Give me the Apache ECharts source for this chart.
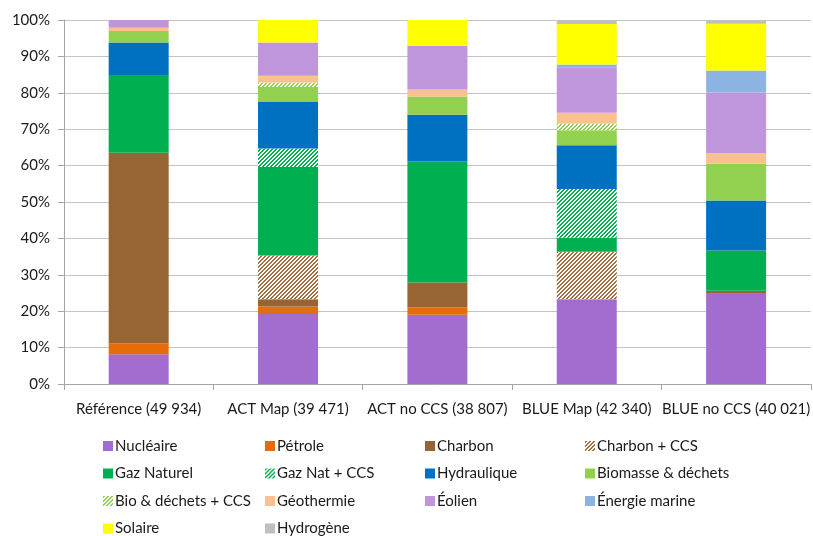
<!DOCTYPE html>
<html>
<head>
<meta charset="utf-8">
<script src="https://cdn.jsdelivr.net/npm/echarts@6/dist/echarts.min.js"></script>
<style>html,body{margin:0;padding:0;background:#fff}#c{width:813px;height:536px}</style>
</head>
<body>
<div id="c"></div>
<script>
const categories = ['Référence (49 934)', 'ACT Map (39 471)', 'ACT no CCS (38 807)', 'BLUE Map (42 340)', 'BLUE no CCS (40 021)'];
const yTicks = [0, 10, 20, 30, 40, 50, 60, 70, 80, 90, 100];

const nucleaire   = [8.2, 19.2, 19.0, 23.3, 24.8];
const petrole     = [3.0, 2.1, 2.1, 0, 0];
const charbon     = [52.3, 2.0, 6.8, 0, 0.8];
const charbonCCS  = [0, 12.0, 0, 13.0, 0];
const gazNaturel  = [21.4, 24.3, 33.2, 3.9, 11.1];
const gazNatCCS   = [0, 5.1, 0, 13.4, 0];
const hydraulique = [8.9, 12.9, 12.9, 12.0, 13.7];
const biomasse    = [3.2, 4.0, 5.0, 4.1, 10.1];
const bioCCS      = [0, 1.2, 0, 1.9, 0];
const geothermie  = [0.9, 1.9, 1.9, 2.9, 2.9];
const eolien      = [2.1, 9.1, 12.0, 12.4, 16.7];
const marine      = [0, 0, 0, 0.9, 6.0];
const solaire     = [0, 6.2, 7.1, 11.1, 12.9];
const hydrogene   = [0, 0, 0, 1.1, 1.0];

function stripes(color) {
  const c = document.createElement('canvas');
  c.width = 4; c.height = 4;
  const g = c.getContext('2d');
  g.fillStyle = '#ffffff'; g.fillRect(0, 0, 4, 4);
  g.fillStyle = color;
  for (let y = 0; y < 4; y++) for (let x = 0; x < 4; x++) {
    if (((x + y) % 4) < 2) g.fillRect(x, y, 1, 1);
  }
  return { image: c, repeat: 'repeat' };
}

const defs = [
  ['Nucléaire', nucleaire, '#a36dd0'],
  ['Pétrole', petrole, '#e46c0a'],
  ['Charbon', charbon, '#976434'],
  ['Charbon + CCS', charbonCCS, stripes('#a0703f')],
  ['Gaz Naturel', gazNaturel, '#00b050'],
  ['Gaz Nat + CCS', gazNatCCS, stripes('#00b050')],
  ['Hydraulique', hydraulique, '#0070c0'],
  ['Biomasse & déchets', biomasse, '#92d050'],
  ['Bio & déchets + CCS', bioCCS, stripes('#92d050')],
  ['Géothermie', geothermie, '#fac090'],
  ['Éolien', eolien, '#bf96dc'],
  ['Énergie marine', marine, '#8db3e2'],
  ['Solaire', solaire, '#ffff00'],
  ['Hydrogène', hydrogene, '#bfbfbf']
];

const series = defs.map(d => ({
  name: d[0], type: 'bar', stack: 'total', data: d[1], barWidth: 60,
  itemStyle: { color: d[2] }, emphasis: { disabled: true }
}));

const cols = [
  ['Nucléaire', 'Gaz Naturel', 'Bio & déchets + CCS', 'Solaire'],
  ['Pétrole', 'Gaz Nat + CCS', 'Géothermie', 'Hydrogène'],
  ['Charbon', 'Hydraulique', 'Éolien'],
  ['Charbon + CCS', 'Biomasse & déchets', 'Énergie marine']
];
const colX = [103, 265, 425, 585];
const font = 'Lato';
const legends = cols.map((names, i) => ({
  data: names, orient: 'vertical', left: colX[i], top: 438, height: 120, width: 170,
  itemWidth: 10, itemHeight: 10, itemGap: 11.5, icon: 'rect',
  textStyle: { fontFamily: font, fontSize: 15, color: '#1a1a1a', lineHeight: 16, padding: [0, 0, 0, -3] },
  selectedMode: false, padding: 0
}));

const chart = echarts.init(document.getElementById('c'), null, { renderer: 'canvas' });
chart.setOption({
  animation: false,
  backgroundColor: '#fff',
  grid: { left: 64, top: 20, width: 750, height: 364 },
  legend: legends,
  xAxis: {
    type: 'category', data: categories,
    axisLine: { lineStyle: { color: '#a6a6a6' } },
    axisTick: { show: true, length: 6, lineStyle: { color: '#a6a6a6' } },
    axisLabel: { fontFamily: font, fontSize: 15, color: '#1a1a1a', margin: 18, interval: 0 }
  },
  yAxis: {
    type: 'value', min: 0, max: 100, interval: 10,
    axisLine: { show: true, lineStyle: { color: '#a6a6a6' } },
    axisTick: { show: true, length: 6, lineStyle: { color: '#a6a6a6' } },
    splitLine: { lineStyle: { color: '#c4c4c4' } },
    axisLabel: { fontFamily: font, fontSize: 15, color: '#1a1a1a', margin: 14,
      formatter: v => yTicks.includes(v) ? v + '%' : '' }
  },
  series: series
});
</script>
</body>
</html>
